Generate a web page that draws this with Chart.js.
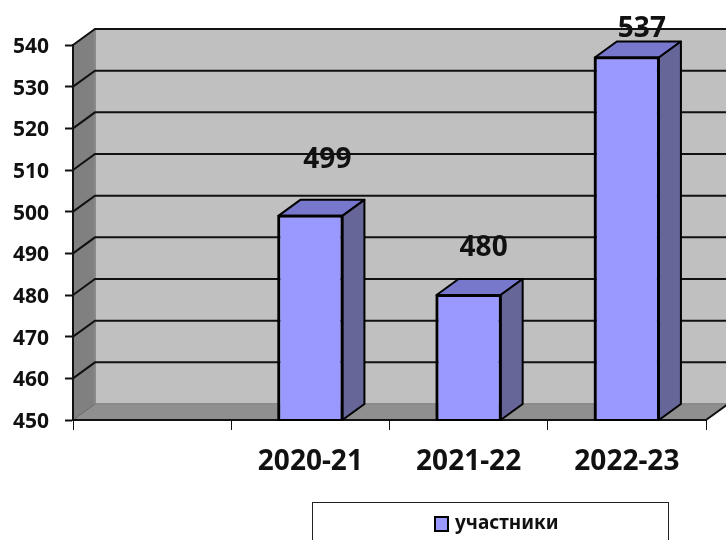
<!DOCTYPE html>
<html>
<head>
<meta charset="utf-8">
<style>
  html, body { margin: 0; padding: 0; background: #fff; overflow: hidden; }
  canvas { display: block; }
</style>
<script src="https://cdn.jsdelivr.net/npm/chart.js@4"></script>
</head>
<body>
<canvas id="chart" width="726" height="540"></canvas>
<script>
const categories = ["", "2020-21", "2021-22", "2022-23"];
const participants = [null, 499, 480, 537];
const seriesName = "участники";

// 3D look: how far the back wall sits from the front of the plot
const DEPTH_X = 22;
const DEPTH_Y = -16;
// data labels were moved by hand in the original, so they float at different spots
const labelLift = [0, 56, 47, 28];
const labelShift = [0, 17, 15, 15];
const FONT = "'Noto Sans', sans-serif";

function poly(ctx, pts, fill, stroke, lw) {
  ctx.beginPath();
  pts.forEach((p, i) => (i ? ctx.lineTo(p[0], p[1]) : ctx.moveTo(p[0], p[1])));
  ctx.closePath();
  if (fill) {
    ctx.fillStyle = fill;
    ctx.fill();
  }
  if (stroke) {
    ctx.strokeStyle = stroke;
    ctx.lineWidth = lw || 2;
    ctx.lineJoin = "round";
    ctx.stroke();
  }
}

const walls = {
  id: "walls",
  beforeDraw(chart) {
    const { ctx, chartArea: a, scales } = chart;
    const dx = DEPTH_X, dy = DEPTH_Y;
    ctx.save();
    // back wall, side wall, floor
    poly(ctx, [[a.left + dx, a.top + dy], [a.right + dx, a.top + dy], [a.right + dx, a.bottom + dy], [a.left + dx, a.bottom + dy]], "#c0c0c0");
    poly(ctx, [[a.left, a.top], [a.left + dx, a.top + dy], [a.left + dx, a.bottom + dy], [a.left, a.bottom]], "#808080");
    poly(ctx, [[a.left, a.bottom], [a.left + dx, a.bottom + dy], [a.right + dx, a.bottom + dy], [a.right, a.bottom]], "#8f8f8f");

    // soft edges where the wall meets the side and floor
    ctx.strokeStyle = "#8a8a8a";
    ctx.lineWidth = 2;
    ctx.beginPath();
    ctx.moveTo(a.left + dx, a.top + dy);
    ctx.lineTo(a.left + dx, a.bottom + dy);
    ctx.lineTo(a.right + dx, a.bottom + dy);
    ctx.stroke();

    // gridlines wrap round the side wall
    ctx.strokeStyle = "#111";
    ctx.lineWidth = 2;
    scales.y.ticks.forEach((t) => {
      if (t.value === scales.y.min) return;
      const y = scales.y.getPixelForValue(t.value);
      ctx.beginPath();
      ctx.moveTo(a.left, y);
      ctx.lineTo(a.left + dx, y + dy);
      ctx.lineTo(a.right + dx, y + dy);
      ctx.stroke();
    });

    // front corners of the floor
    ctx.beginPath();
    ctx.moveTo(a.left, a.bottom);
    ctx.lineTo(a.left + dx, a.bottom + dy);
    ctx.strokeStyle = "#666";
    ctx.lineWidth = 1;
    ctx.stroke();
    ctx.beginPath();
    ctx.moveTo(a.right, a.bottom);
    ctx.lineTo(a.right + dx, a.bottom + dy);
    ctx.strokeStyle = "#111";
    ctx.lineWidth = 2;
    ctx.stroke();
    ctx.restore();
  },
};

const barDepth = {
  id: "barDepth",
  afterDatasetsDraw(chart) {
    const { ctx, chartArea } = chart;
    const dx = DEPTH_X, dy = DEPTH_Y;
    ctx.save();
    chart.getDatasetMeta(0).data.forEach((bar, i) => {
      if (participants[i] === null) return;
      const l = bar.x - bar.width / 2, r = bar.x + bar.width / 2;
      const t = bar.y, b = chartArea.bottom;
      poly(ctx, [[l, t], [l + dx, t + dy], [r + dx, t + dy], [r, t]], "#7777cc", "#000");
      poly(ctx, [[r, t], [r + dx, t + dy], [r + dx, b + dy], [r, b]], "#666699", "#000");
      poly(ctx, [[l, t], [r, t], [r, b], [l, b]], null, "#000");

      ctx.fillStyle = "#111";
      ctx.font = "bold 28px " + FONT;
      ctx.textAlign = "center";
      ctx.textBaseline = "middle";
      ctx.fillText(String(participants[i]), bar.x + labelShift[i], t - labelLift[i]);
    });
    ctx.restore();
  },
};

const legendBox = {
  id: "legendBox",
  afterDraw(chart) {
    const { ctx } = chart;
    ctx.save();
    ctx.strokeStyle = "#222";
    ctx.lineWidth = 1;
    ctx.strokeRect(312.5, 502.5, 356, 60);
    ctx.fillStyle = "#9999ff";
    ctx.strokeStyle = "#000";
    ctx.lineWidth = 2;
    ctx.fillRect(435, 517, 13, 14);
    ctx.strokeRect(435, 517, 13, 14);
    ctx.fillStyle = "#111";
    ctx.font = "bold 19px " + FONT;
    ctx.textAlign = "left";
    ctx.textBaseline = "middle";
    ctx.fillText(chart.data.datasets[0].label, 455, 524);
    ctx.restore();
  },
};

new Chart(document.getElementById("chart"), {
  type: "bar",
  data: {
    labels: categories,
    datasets: [{
      label: seriesName,
      data: participants,
      backgroundColor: "#9999ff",
      borderColor: "#000",
      borderWidth: 2,
      barPercentage: 0.405,
      categoryPercentage: 1,
    }],
  },
  plugins: [walls, barDepth, legendBox],
  options: {
    responsive: false,
    animation: false,
    layout: { padding: { top: 45, right: 20, left: 0, bottom: 0 } },
    plugins: { legend: { display: false }, tooltip: { enabled: false } },
    scales: {
      x: {
        afterFit(s) { s.height = 120; },
        border: { color: "#111", width: 2 },
        grid: { offset: true, drawOnChartArea: false, drawTicks: true, tickLength: 10, tickColor: "#111", tickWidth: 1 },
        ticks: { color: "#111", font: { family: FONT, size: 28, weight: "bold" }, padding: 15, maxRotation: 0, autoSkip: false },
      },
      y: {
        min: 450,
        max: 540,
        afterFit(s) { s.width = 73; },
        border: { color: "#111", width: 2 },
        grid: { drawOnChartArea: false, drawTicks: true, tickLength: 8, tickColor: "#111", tickWidth: 2 },
        ticks: { stepSize: 10, color: "#111", font: { family: FONT, size: 21, weight: "bold" }, padding: 16, labelOffset: 2 },
      },
    },
  },
});
</script>
</body>
</html>
